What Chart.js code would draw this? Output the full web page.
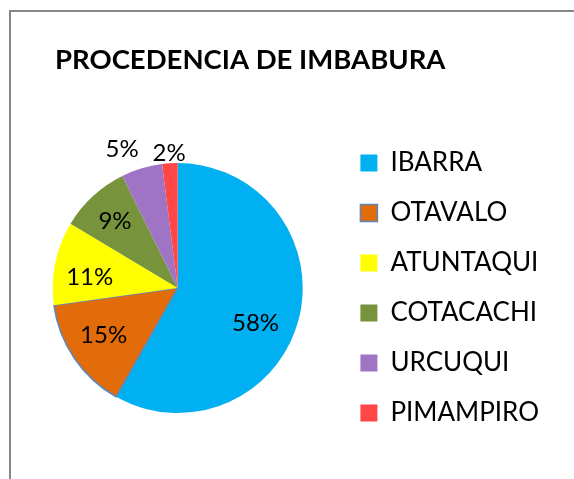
<!DOCTYPE html>
<html>
<head>
<meta charset="utf-8">
<script src="https://cdn.jsdelivr.net/npm/chart.js@4/dist/chart.umd.min.js"></script>
<style>
  html, body { margin: 0; padding: 0; background: #fff; overflow: hidden; }
  #frame { position: absolute; left: 9px; top: 10px; width: 620px; height: 520px;
           border-left: 2px solid #878787; border-top: 2px solid #878787; }
  #wrap { position: absolute; left: 0; top: 0; width: 574px; height: 479px; }
</style>
</head>
<body>
<div id="frame"></div>
<div id="wrap"><canvas id="myChart"></canvas></div>
<script>
const chartTitle = 'PROCEDENCIA DE IMBABURA';
const cantones = ['IBARRA', 'OTAVALO', 'ATUNTAQUI', 'COTACACHI', 'URCUQUI', 'PIMAMPIRO'];
const porcentajes = [58.2, 14.6, 10.8, 9.1, 5.3, 2.0];
const colores = ['#00B0F0', '#E36C0A', '#FFFF00', '#77933C', '#A074C4', '#FF4747'];

// where each % label sits: fraction of the radius, and a small turn (deg) off the slice middle
const labelSpots = [
    { r: 0.68, turn: 9 },
    { r: 0.70, turn: 2 },
    { r: 0.71, turn: -4 },
    { r: 0.74, turn: 0 },
    { r: 1.20, turn: -5 },
    { r: 1.09, turn: 0 }
];

const FONT = 'Lato, "Open Sans", sans-serif';

const titlePlugin = {
    id: 'sheetTitle',
    afterDraw(chart) {
        const ctx = chart.ctx;
        ctx.save();
        ctx.font = 'bold 27.5px ' + FONT;
        ctx.fillStyle = '#000';
        ctx.textBaseline = 'alphabetic';
        ctx.fillText(chartTitle, 55, 69);
        ctx.restore();
    }
};

const percentLabels = {
    id: 'percentLabels',
    afterDatasetsDraw(chart) {
        const ctx = chart.ctx;
        const meta = chart.getDatasetMeta(0);
        const data = chart.data.datasets[0].data;
        const total = data.reduce((a, b) => a + b, 0);
        ctx.save();
        ctx.font = '24px ' + FONT;
        ctx.fillStyle = '#000';
        ctx.textAlign = 'center';
        ctx.textBaseline = 'middle';
        meta.data.forEach((arc, i) => {
            const p = arc.getProps(['x', 'y', 'startAngle', 'endAngle', 'outerRadius'], true);
            const spot = labelSpots[i];
            const mid = (p.startAngle + p.endAngle) / 2 + spot.turn * Math.PI / 180;
            const d = p.outerRadius * spot.r;
            const txt = Math.round(data[i] / total * 100) + '%';
            ctx.fillText(txt, p.x + Math.cos(mid) * d, p.y + Math.sin(mid) * d + 1);
        });
        ctx.restore();
    }
};

const ctx = document.getElementById('myChart').getContext('2d');
const myChart = new Chart(ctx, {
    type: 'pie',
    data: {
        labels: cantones,
        datasets: [{
            data: porcentajes,
            backgroundColor: colores,
            borderColor: ['#4F81BD', '#5A86BD', '#4F81BD', '#4F81BD', '#4F81BD', '#4F81BD'],
            borderWidth: [0, 1.5, 0, 0, 0, 0]
        }]
    },
    plugins: [titlePlugin, percentLabels],
    options: {
        responsive: true,
        maintainAspectRatio: false,
        animation: false,
        radius: 125,
        layout: {
            padding: { left: 19, top: 100, bottom: 3, right: 25 }
        },
        plugins: {
            title: { display: false },
            tooltip: { enabled: false },
            legend: {
                position: 'right',
                align: 'center',
                labels: {
                    boxWidth: 17,
                    boxHeight: 17,
                    padding: 24,
                    color: '#000',
                    font: { family: FONT, size: 26 }
                }
            }
        }
    }
});
</script>
</body>
</html>
